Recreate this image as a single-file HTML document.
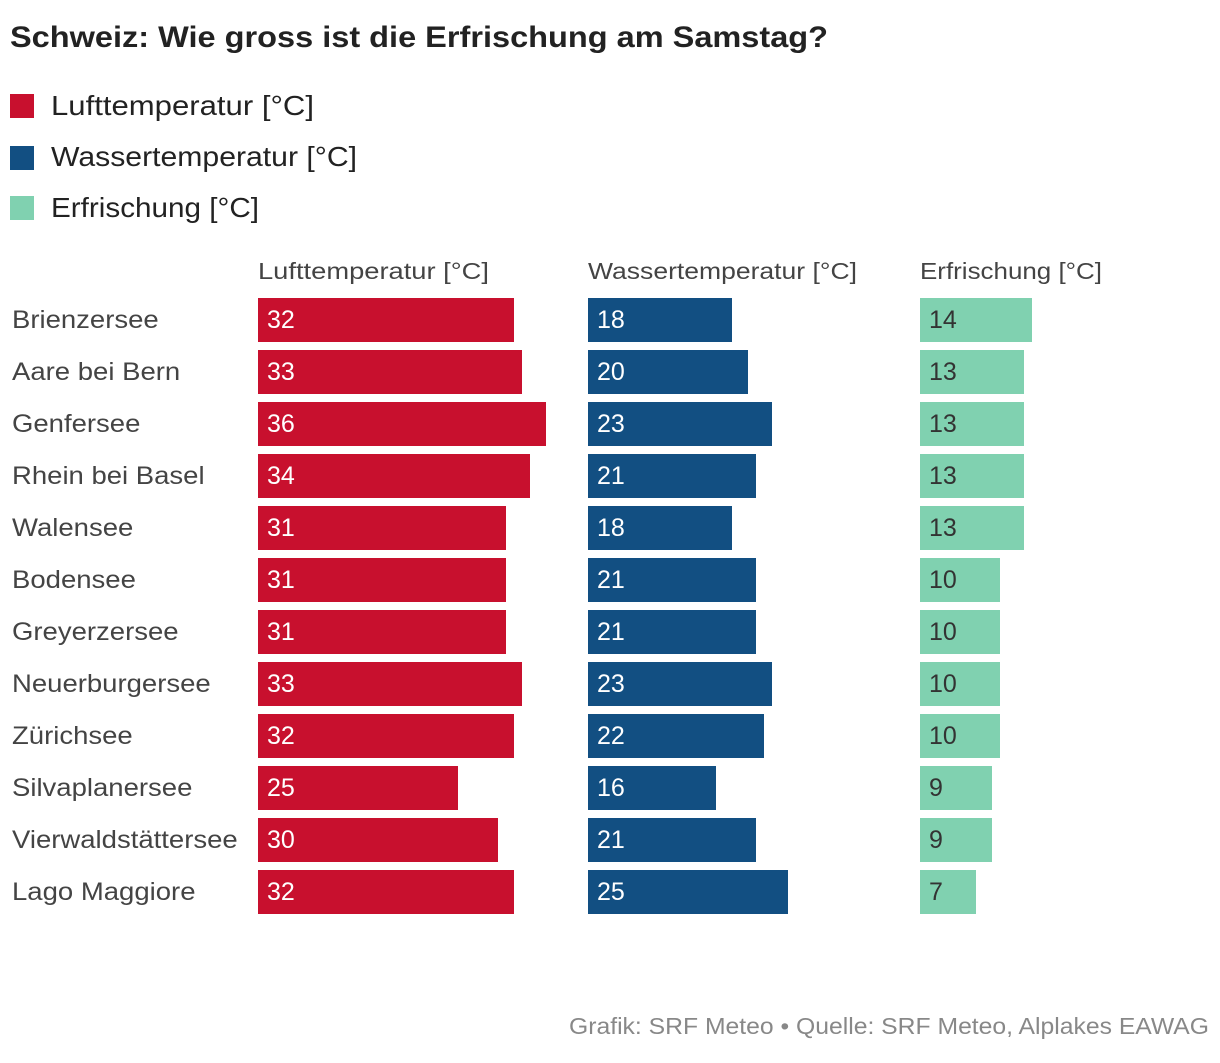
<!DOCTYPE html>
<html><head><meta charset="utf-8">
<style>
body{margin:0;width:1220px;height:1058px;background:#fff;font-family:"Liberation Sans","DejaVu Sans",sans-serif;color:#222;overflow:hidden}
</style></head><body>
<svg id="chart" width="1220" height="1058" xmlns="http://www.w3.org/2000/svg" font-family="Liberation Sans, DejaVu Sans, sans-serif">
<text x="10" y="47" font-size="30" font-weight="bold" fill="#222" textLength="818" lengthAdjust="spacingAndGlyphs">Schweiz: Wie gross ist die Erfrischung am Samstag?</text>
<g>
<rect x="10" y="94" width="24" height="24" fill="#c8102e"/>
<text x="51" y="115" font-size="28" fill="#222" textLength="263" lengthAdjust="spacingAndGlyphs">Lufttemperatur [°C]</text>
<rect x="10" y="146" width="24" height="24" fill="#124f82"/>
<text x="51" y="166" font-size="28" fill="#222" textLength="306" lengthAdjust="spacingAndGlyphs">Wassertemperatur [°C]</text>
<rect x="10" y="196" width="24" height="24" fill="#80d1b0"/>
<text x="51" y="217" font-size="28" fill="#222" textLength="208" lengthAdjust="spacingAndGlyphs">Erfrischung [°C]</text>
</g>
<text x="258" y="279" font-size="23" fill="#444" textLength="231" lengthAdjust="spacingAndGlyphs">Lufttemperatur [°C]</text>
<text x="588" y="279" font-size="23" fill="#444" textLength="269" lengthAdjust="spacingAndGlyphs">Wassertemperatur [°C]</text>
<text x="920" y="279" font-size="23" fill="#444" textLength="182" lengthAdjust="spacingAndGlyphs">Erfrischung [°C]</text>
<g id="rows"></g>
<text x="569" y="1034" font-size="23" fill="#888" textLength="640" lengthAdjust="spacingAndGlyphs">Grafik: SRF Meteo • Quelle: SRF Meteo, Alplakes EAWAG</text>
</svg>
<script>
const lakes=["Brienzersee","Aare bei Bern","Genfersee","Rhein bei Basel","Walensee","Bodensee","Greyerzersee","Neuerburgersee","Zürichsee","Silvaplanersee","Vierwaldstättersee","Lago Maggiore"];
const luft=[32,33,36,34,31,31,31,33,32,25,30,32];
const wasser=[18,20,23,21,18,21,21,23,22,16,21,25];
const erfrischung=[14,13,13,13,13,10,10,10,10,9,9,7];
const NS="http://www.w3.org/2000/svg";
const g=document.getElementById('rows');
const scale=v=>v*8;
const rowY=i=>298+i*52;
const cols=[{data:luft,x:258,fill:"#c8102e",tc:"#fff",key:"luft"},{data:wasser,x:588,fill:"#124f82",tc:"#fff",key:"wasser"},{data:erfrischung,x:920,fill:"#80d1b0",tc:"#333",key:"erfrischung"}];
lakes.forEach((name,i)=>{
  const y=rowY(i);
  const t=document.createElementNS(NS,'text');
  
  
  t.setAttribute('x',12);t.setAttribute('y',y+30);t.setAttribute('font-size','25');t.setAttribute('fill','#444');
  t.textContent=name;g.appendChild(t);
  t.setAttribute('textLength',(t.getComputedTextLength()*1.1).toFixed(1));
  t.setAttribute('lengthAdjust','spacingAndGlyphs');
  cols.forEach(c=>{
    const r=document.createElementNS(NS,'rect');
    
    
    r.setAttribute('x',c.x);r.setAttribute('y',y);r.setAttribute('width',scale(c.data[i]));r.setAttribute('height',44);r.setAttribute('fill',c.fill);
    g.appendChild(r);
    const v=document.createElementNS(NS,'text');
    
    
    v.setAttribute('x',c.x+9);v.setAttribute('y',y+30);v.setAttribute('font-size','25');v.setAttribute('fill',c.tc);
    v.textContent=c.data[i];g.appendChild(v);
  });
});
</script>
</body></html>
